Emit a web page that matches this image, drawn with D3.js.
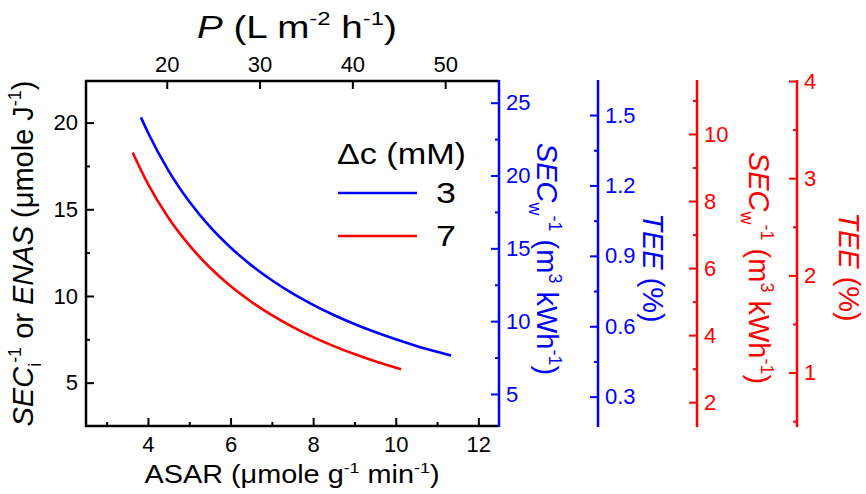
<!DOCTYPE html>
<html>
<head>
<meta charset="utf-8">
<script src="https://cdn.jsdelivr.net/npm/d3@7"></script>
<style>
  body { margin: 0; background: #fff; }
  svg text { font-family: "Liberation Sans", Arial, sans-serif; }
</style>
</head>
<body>
<svg id="chart" width="866" height="494"></svg>
<script>
// data (ASAR vs SEC_i^-1 / ENAS)
let asar3 = [3.83, 4.0, 4.5, 5.0, 5.5, 6.0, 6.5, 7.0, 7.5, 8.0, 8.5, 9.0, 9.5, 10.0, 10.5, 11.0, 11.34];
let enas3 = [20.3, 19.43, 17.22, 15.45, 14.0, 12.8, 11.78, 10.91, 10.15, 9.49, 8.9, 8.38, 7.92, 7.5, 7.12, 6.78, 6.56];
let asar7 = [3.63, 4.0, 4.5, 5.0, 5.5, 6.0, 6.5, 7.0, 7.5, 8.0, 8.5, 9.0, 9.5, 10.13];
let enas7 = [18.27, 16.47, 14.5, 12.93, 11.64, 10.57, 9.67, 8.89, 8.22, 7.63, 7.11, 6.65, 6.23, 5.77];

let seriesNames = ["3", "7"];
let seriesColors = ["#0000ff", "#ff0000"];

let asarTicks = [4, 6, 8, 10, 12];
let asarMinor = [3, 5, 7, 9, 11];
let pTicks = [20, 30, 40, 50];
let enasTicks = [5, 10, 15, 20];
let enasMinor = [7.5, 12.5, 17.5];
let secBlueTicks = [5, 10, 15, 20, 25];
let secBlueMinor = [7.5, 12.5, 17.5, 22.5];
let teeBlueTicks = [0.3, 0.6, 0.9, 1.2, 1.5];
let teeBlueMinor = [0.45, 0.75, 1.05, 1.35];
let secRedTicks = [2, 4, 6, 8, 10];
let secRedMinor = [3, 5, 7, 9, 11];
let teeRedTicks = [1, 2, 3, 4];
let teeRedMinor = [0.5, 1.5, 2.5, 3.5];

// layout (plot box + the extra right axes)
var pL = 86, pR = 499, pT = 81, pB = 426;
var blue2X = 598, red1X = 697, red2X = 797;
var tickFont = 22, sideFont = 29;

var svg = d3.select("#chart");

var x = d3.scaleLinear().domain([2.5, 12.5]).range([pL, pR]);
var xTop = d3.scaleLinear().domain([11.3, 55.8]).range([pL, pR]);
var y = d3.scaleLinear().domain([2.5, 22.4]).range([pB, pT]);
var ySecB = d3.scaleLinear().domain([2.8, 26.49]).range([pB, pT]);
var yTeeB = d3.scaleLinear().domain([0.175, 1.645]).range([pB, pT]);
var ySecR = d3.scaleLinear().domain([1.29, 11.58]).range([pB, pT]);
var yTeeR = d3.scaleLinear().domain([0.45, 4.0]).range([pB, pT]);

// writes a label made of pieces (italic / superscript / subscript)
function richText(sel, parts, size) {
  let off = 0;
  parts.forEach(p => {
    let s = sel.append("tspan").text(p.t);
    if (p.i) s.attr("font-style", "italic");
    let target = p.sup ? -0.42 * size : (p.sub ? 0.28 * size : 0);
    if (p.sup || p.sub) s.attr("font-size", size * 0.62);
    if (target !== off) s.attr("dy", target - off);
    off = target;
  });
  return sel;
}

function styleAxis(g, color) {
  g.select(".domain").remove();
  g.attr("font-size", tickFont).attr("font-family", "Liberation Sans, Arial, sans-serif");
  g.selectAll(".tick line").attr("stroke", color).attr("stroke-width", 2);
  g.selectAll(".tick text").attr("fill", color);
}

function drawAxis(axisFn, scale, major, minor, transform, color, fmt, pad) {
  if (minor) {
    let gm = svg.append("g").attr("transform", transform)
      .call(axisFn(scale).tickValues(minor).tickSizeInner(-4).tickSizeOuter(0).tickFormat(""));
    styleAxis(gm, color);
  }
  let g = svg.append("g").attr("transform", transform)
    .call(axisFn(scale).tickValues(major).tickSizeInner(-8).tickSizeOuter(0)
      .tickPadding(pad || 7).tickFormat(fmt || d3.format("")));
  styleAxis(g, color);
  return g;
}

// main frame axes
drawAxis(d3.axisBottom, x, asarTicks, asarMinor, `translate(0,${pB})`, "#000", null, 10);
drawAxis(d3.axisTop, xTop, pTicks, null, `translate(0,${pT})`, "#000", null, 9);
drawAxis(d3.axisLeft, y, enasTicks, enasMinor, `translate(${pL},0)`, "#000", null, 8);

// right-hand axes
drawAxis(d3.axisRight, ySecB, secBlueTicks, secBlueMinor, `translate(${pR},0)`, "#0000ff");
drawAxis(d3.axisRight, yTeeB, teeBlueTicks, teeBlueMinor, `translate(${blue2X},0)`, "#0000ff", d3.format(".1f"));
drawAxis(d3.axisRight, ySecR, secRedTicks, secRedMinor, `translate(${red1X},0)`, "#ff0000");
drawAxis(d3.axisRight, yTeeR, teeRedTicks, teeRedMinor, `translate(${red2X},0)`, "#ff0000");

// frame lines
svg.append("path")
  .attr("d", `M${pR},${pT}H${pL}V${pB}H${pR}`)
  .attr("fill", "none").attr("stroke", "#000").attr("stroke-width", 2.5);
[[pR, "#0000ff"], [blue2X, "#0000ff"], [red1X, "#ff0000"], [red2X, "#ff0000"]].forEach(d => {
  svg.append("line").attr("x1", d[0]).attr("x2", d[0]).attr("y1", pT - 1).attr("y2", pB + 1)
    .attr("stroke", d[1]).attr("stroke-width", 2.5);
});

// curves
var line = d3.line().x(d => x(d[0])).y(d => y(d[1])).curve(d3.curveMonotoneX);
var curves = [d3.zip(asar3, enas3), d3.zip(asar7, enas7)];
curves.forEach((c, i) => {
  svg.append("path").datum(c).attr("d", line)
    .attr("fill", "none").attr("stroke", seriesColors[i]).attr("stroke-width", 2.6);
});

// legend
svg.append("text").attr("x", 337).attr("y", 164).attr("font-size", 29)
  .attr("textLength", 129).attr("lengthAdjust", "spacingAndGlyphs")
  .text("\u0394c (mM)");
seriesNames.forEach((n, i) => {
  let ly = 193 + i * 43;
  svg.append("line").attr("x1", 338).attr("x2", 417).attr("y1", ly).attr("y2", ly)
    .attr("stroke", seriesColors[i]).attr("stroke-width", 2.6);
  svg.append("text").attr("x", 436).attr("y", ly + 10).attr("font-size", 29)
    .attr("textLength", 20).attr("lengthAdjust", "spacingAndGlyphs").text(n);
});

// axis titles
richText(svg.append("text").attr("x", 297).attr("y", 38)
  .attr("text-anchor", "middle").attr("font-size", 31)
  .attr("textLength", 200).attr("lengthAdjust", "spacingAndGlyphs"),
  [{t: "P", i: true}, {t: " (L m"}, {t: "-2", sup: true}, {t: " h"}, {t: "-1", sup: true}, {t: ")"}], 31);

richText(svg.append("text").attr("x", 292).attr("y", 483)
  .attr("text-anchor", "middle").attr("font-size", 25)
  .attr("textLength", 295).attr("lengthAdjust", "spacingAndGlyphs"),
  [{t: "ASAR (\u03bcmole g"}, {t: "-1", sup: true}, {t: " min"}, {t: "-1", sup: true}, {t: ")"}], 25);

richText(svg.append("text").attr("transform", `translate(33,${(pT + pB) / 2}) rotate(-90)`)
  .attr("text-anchor", "middle").attr("font-size", sideFont),
  [{t: "SEC", i: true}, {t: "i", sub: true}, {t: "-1", sup: true}, {t: " or "}, {t: "ENAS", i: true},
   {t: " (\u03bcmole J"}, {t: "-1", sup: true}, {t: ")"}], sideFont);

richText(svg.append("text").attr("transform", `translate(537,259) rotate(90)`)
  .attr("text-anchor", "middle").attr("font-size", sideFont).attr("fill", "#0000ff"),
  [{t: "SEC", i: true}, {t: "w", sub: true}, {t: "-1", sup: true}, {t: " (m"}, {t: "3", sup: true},
   {t: " kWh"}, {t: "-1", sup: true}, {t: ")"}], sideFont);

richText(svg.append("text").attr("transform", `translate(643,268) rotate(90)`)
  .attr("text-anchor", "middle").attr("font-size", 29).attr("fill", "#0000ff"),
  [{t: "TEE", i: true}, {t: " (%)"}], 29);

richText(svg.append("text").attr("transform", `translate(749,268) rotate(90)`)
  .attr("text-anchor", "middle").attr("font-size", sideFont).attr("fill", "#ff0000"),
  [{t: "SEC", i: true}, {t: "w", sub: true}, {t: "-1", sup: true}, {t: " (m"}, {t: "3", sup: true},
   {t: " kWh"}, {t: "-1", sup: true}, {t: ")"}], sideFont);

richText(svg.append("text").attr("transform", `translate(839,267) rotate(90)`)
  .attr("text-anchor", "middle").attr("font-size", 29).attr("fill", "#ff0000"),
  [{t: "TEE", i: true}, {t: " (%)"}], 29);
</script>
</body>
</html>
